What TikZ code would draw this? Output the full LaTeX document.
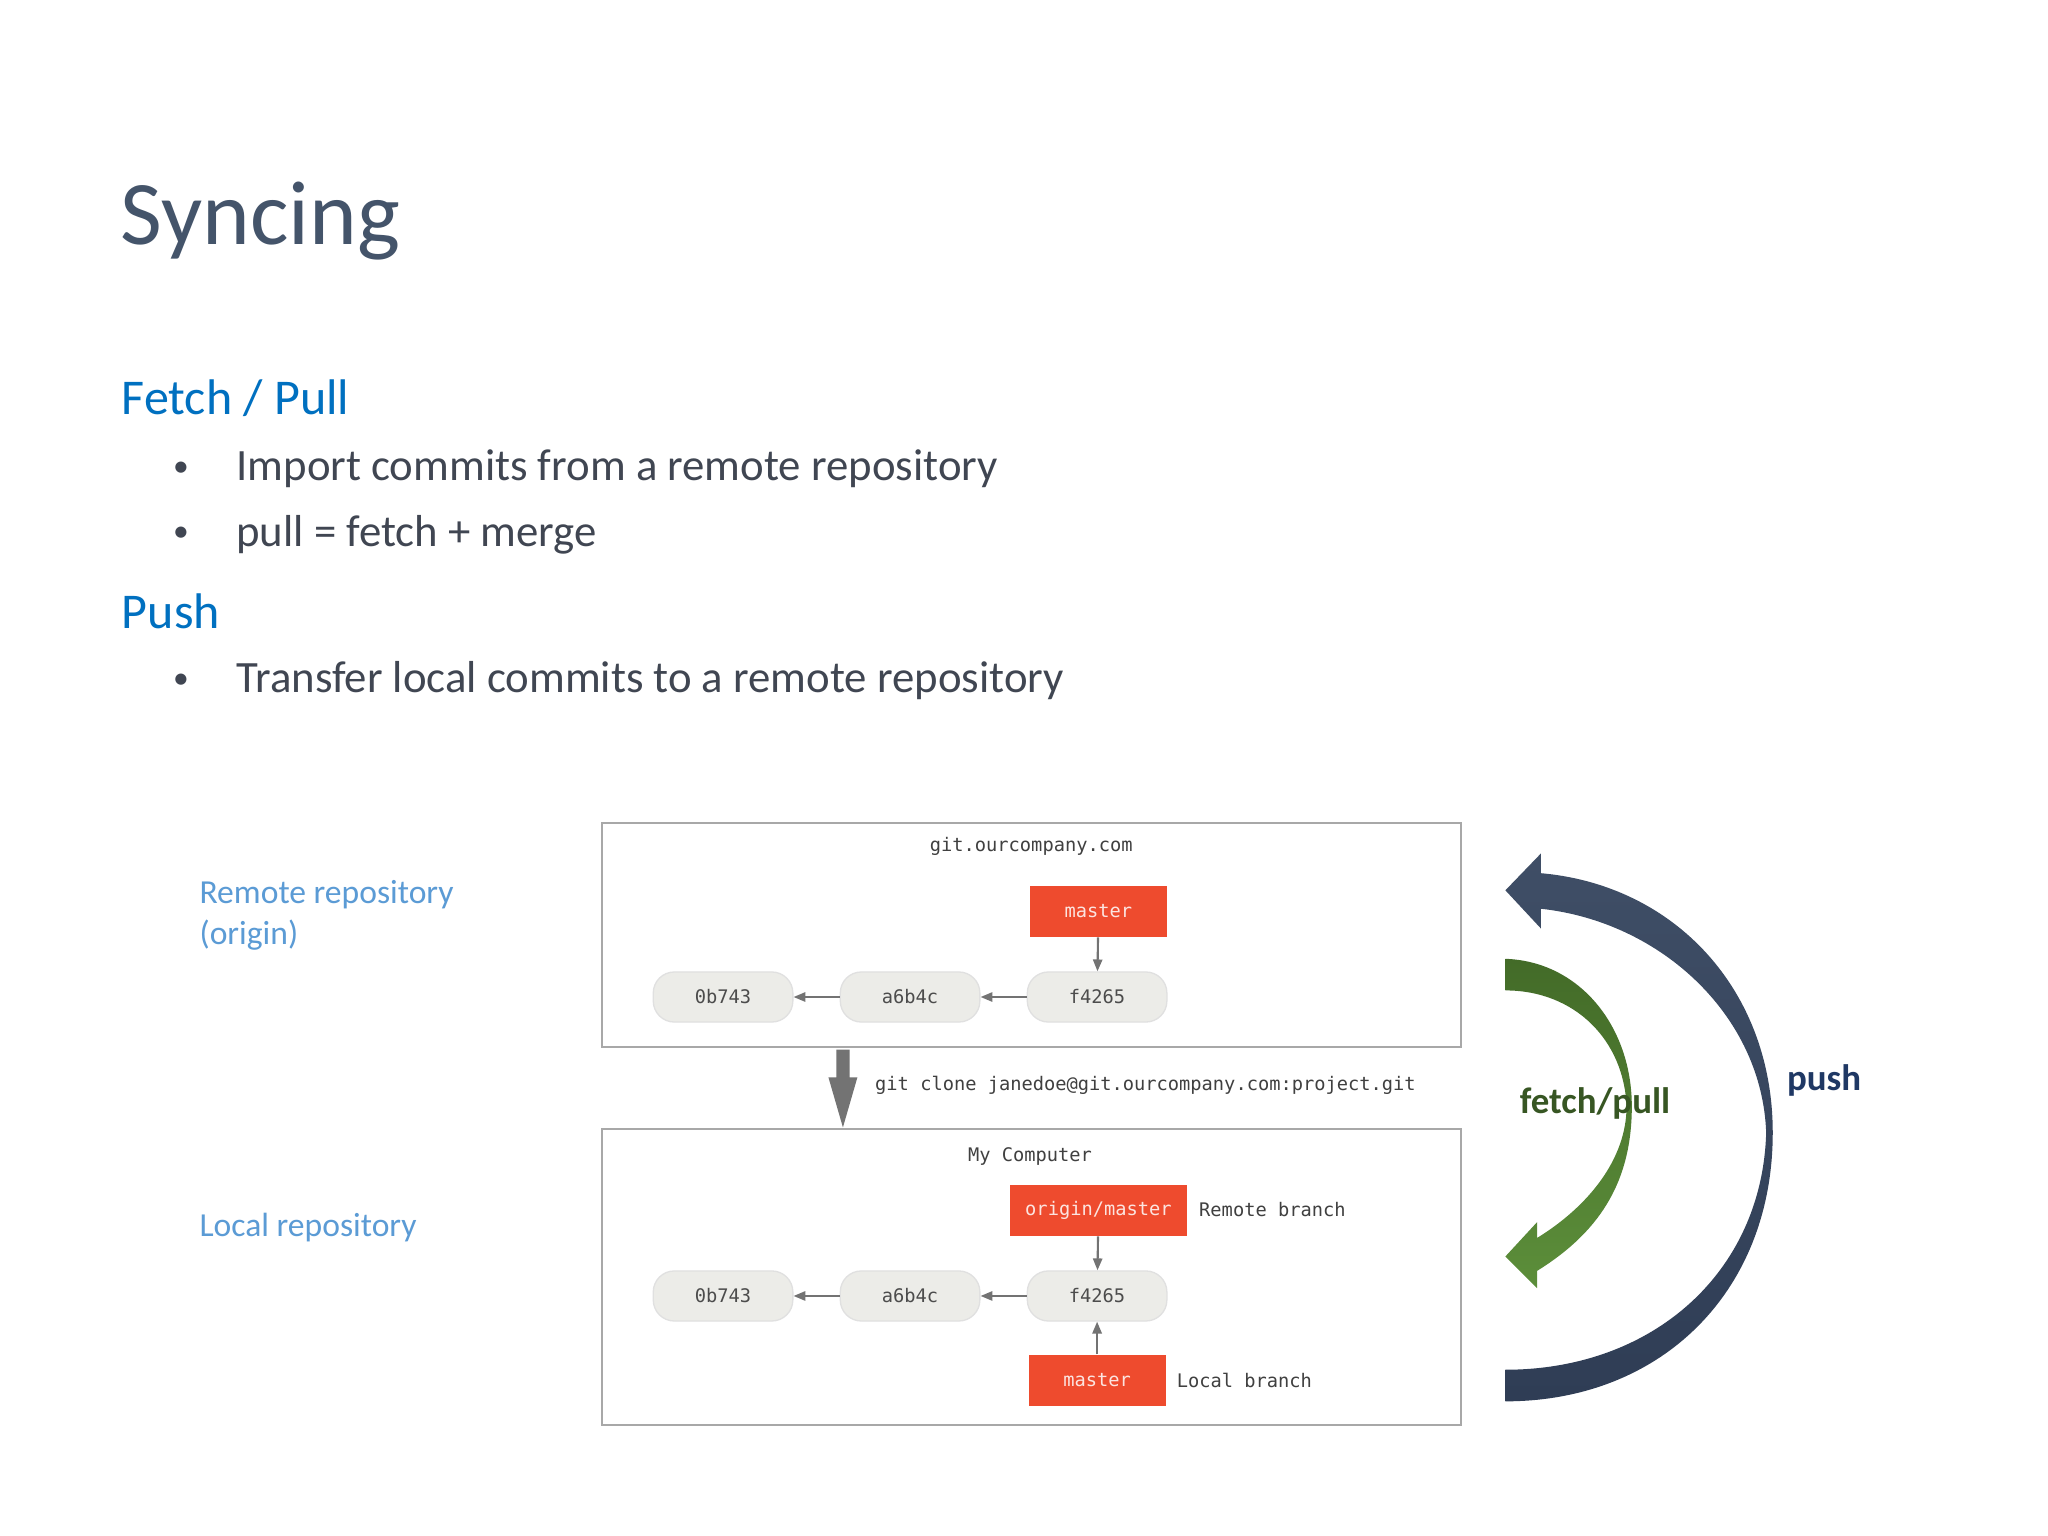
\documentclass[tikz,border=0pt]{standalone}
\usepackage{fontspec}
\setmainfont{Carlito}
\newfontfamily\monof{DejaVu Sans Mono}
\usetikzlibrary{arrows.meta}
\definecolor{titlec}{HTML}{44546A}
\definecolor{headc}{HTML}{0070C0}
\definecolor{bodyc}{HTML}{404652}
\definecolor{lblc}{HTML}{5B9BD5}
\definecolor{gitred}{HTML}{EE4B2E}
\definecolor{pillc}{HTML}{ECECE8}
\definecolor{boxc}{HTML}{A8A8A8}
\definecolor{pushc}{HTML}{3F4E66}
\definecolor{pushd}{HTML}{2F3D55}
\definecolor{greenA}{HTML}{436B28}
\definecolor{greenB}{HTML}{5C8E3A}
\definecolor{fetchtxt}{HTML}{375623}
\definecolor{pushtxt}{HTML}{1F3864}
\tikzset{
 frame/.style={draw=boxc,line width=1.6pt},
 pill/.style={fill=pillc,draw=black!12,line width=1pt,rounded corners=16pt,minimum width=106pt,minimum height=38pt,font=\monof\fontsize{14.2}{16}\selectfont,text=black!70},
 redbox/.style={fill=gitred,text=white!85!gitred,font=\monof\fontsize{14.2}{16}\selectfont,minimum height=39pt,inner xsep=8pt},
 mono/.style={font=\monof\fontsize{14.2}{16}\selectfont,text=black!75},
 garrow/.style={draw=black!55,line width=1.6pt,-{Triangle[length=9pt,width=7pt]}},
 bullet/.style={anchor=west,text=bodyc,font=\fontsize{34}{38}\selectfont},
 dot/.style={anchor=west,text=bodyc,font=\fontsize{24}{28}\selectfont},
 head/.style={anchor=west,text=headc,font=\fontsize{38}{42}\selectfont},
 lbl/.style={anchor=west,text=lblc,font=\fontsize{25.5}{31}\selectfont,align=left}
}
\begin{document}
\begin{tikzpicture}[x=1pt,y=-1pt]
\useasboundingbox[fill=white] (0,0) rectangle (1555,1166);
\node[anchor=west,text=titlec,font=\fontsize{69}{72}\selectfont] (title) at (88,168) {Syncing};
\node[head] (h1) at (89,302) {Fetch / Pull};
\node[dot] (b1a) at (128,356) {•};
\node[bullet] (b1) at (176,356) {Import commits from a remote repository};
\node[dot] (b2a) at (128,406) {•};
\node[bullet] (b2) at (176,406) {pull = fetch + merge};
\node[head] (h2) at (89,464) {Push};
\node[dot] (b3a) at (128,517) {•};
\node[bullet] (b3) at (176,517) {Transfer local commits to a remote repository};
\node[lbl] (l1) at (148,695) {Remote repository\\(origin)};
\node[lbl] (l2) at (148,932) {Local repository};
% boxes
\draw[frame] (457,625) rectangle (1109,795);
\draw[frame] (457,857) rectangle (1109,1082);
\node[mono] (t1) at (783,643) {git.ourcompany.com};
\node[redbox,minimum width=104pt] (m1) at (834,692) {master};
\node[pill] (c1) at (549,757) {0b743};
\node[pill] (c2) at (691,757) {a6b4c};
\node[pill] (c3) at (833,757) {f4265};
\draw[garrow] (c2) -- (c1);
\draw[garrow] (c3) -- (c2);
\draw[garrow] (m1) -- (c3);
% clone
\draw[fill=black!55,draw=none] (635,797) -- (645,797) -- (645,818) -- (651,818) -- (640,856) -- (629,818) -- (635,818) -- cycle;
\node[mono,anchor=west] (clone) at (661,824) {git clone janedoe@git.ourcompany.com:project.git};
\node[mono] (t2) at (782,878) {My Computer};
\node[redbox,minimum width=134pt] (om) at (834,919) {origin/master};
\node[mono,anchor=west] (rb) at (907,918) {Remote branch};
\node[pill] (d1) at (549,984) {0b743};
\node[pill] (d2) at (691,984) {a6b4c};
\node[pill] (d3) at (833,984) {f4265};
\draw[garrow] (d2) -- (d1);
\draw[garrow] (d3) -- (d2);
\draw[garrow] (om) -- (d3);
\node[redbox,minimum width=104pt] (m2) at (833,1048) {master};
\node[mono,anchor=west] (lb) at (890,1048) {Local branch};
\draw[garrow] (m2) -- (d3);
% push arrow
\shade[top color=pushc,bottom color=pushd] (1143,1064) .. controls (1262,1064) and (1346,980) .. (1346,860) .. controls (1346,752) and (1272,672) .. (1170,663)
 -- (1170,648) -- (1143,676) -- (1170,705) -- (1170,690)
 .. controls (1262,700) and (1338,772) .. (1341,860) .. controls (1338,966) and (1255,1040) .. (1143,1040) -- cycle;
% fetch arrow
\shade[top color=greenA,bottom color=greenB] (1143,728) .. controls (1200,730) and (1239,780) .. (1239,840) .. controls (1239,900) and (1212,937) .. (1167,965)
 -- (1167,978) -- (1143,954) -- (1167,928) -- (1167,940)
 .. controls (1206,916) and (1235,880) .. (1235,840) .. controls (1233,790) and (1196,752) .. (1143,752) -- cycle;
\node[text=fetchtxt,font=\bfseries\fontsize{28}{30}\selectfont] (fp) at (1211,838) {fetch/pull};
\node[text=pushtxt,font=\bfseries\fontsize{28}{30}\selectfont] (push) at (1385,820) {push};
\end{tikzpicture}
\end{document}
